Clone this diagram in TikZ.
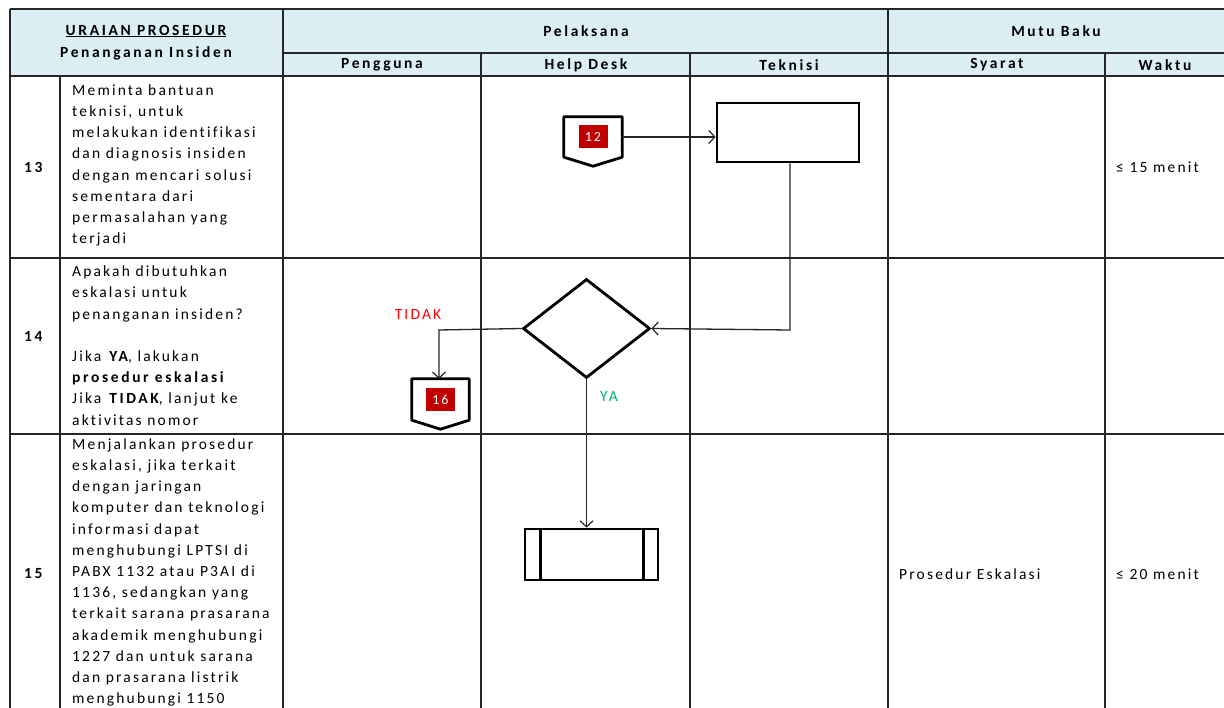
\documentclass[tikz,border=0pt]{standalone}
\usepackage{fontspec}
\setmainfont{Carlito}[LetterSpace=14, Ligatures=NoCommon, BoldFeatures={LetterSpace=17}]
\usetikzlibrary{shapes.geometric,arrows.meta}
\definecolor{hdrfill}{HTML}{DAEEF3}
\definecolor{gridc}{HTML}{262626}
\definecolor{numred}{RGB}{192,0,0}
\definecolor{tidakred}{RGB}{255,0,0}
\definecolor{yagreen}{RGB}{0,176,120}
\begin{document}
\begin{tikzpicture}[x=1pt,y=-1pt,
  every node/.style={font=\fontsize{15.5}{21.2}\selectfont, inner sep=0pt},
  gridline/.style={draw=gridc, line width=1.7pt},
  hd/.style={font=\fontsize{15.5}{21.2}\selectfont\bfseries},
  desc/.style={anchor=west, align=left},
  shp/.style={draw=black, line width=2.8pt},
  numbox/.style={fill=numred, text=white, minimum width=29pt, minimum height=23pt, font=\fontsize{14}{14}\selectfont},
  conn/.style={draw=gridc, line width=1.3pt, -{Straight Barb[length=6pt,width=13pt,line width=1.2pt]}}
]
\useasboundingbox (0,0) rectangle (1224,708);
\clip (0,0) rectangle (1224,708);
\fill[white] (0,0) rectangle (1224,708);

% header fill
\fill[hdrfill] (10,9) rectangle (1224,76);

% grid
\draw[gridline] (10,9) -- (1224,9);
\draw[gridline] (283,53) -- (1224,53);
\draw[gridline] (10,76) -- (1224,76);
\draw[gridline] (10,258) -- (1224,258);
\draw[gridline] (10,434) -- (1224,434);
\draw[gridline] (10,9) -- (10,710);
\draw[gridline] (60,76) -- (60,710);
\draw[gridline] (283,9) -- (283,710);
\draw[gridline] (481,53) -- (481,710);
\draw[gridline] (690,53) -- (690,710);
\draw[gridline] (888,9) -- (888,710);
\draw[gridline] (1105,53) -- (1105,710);

% header texts
\node[hd] (h-uraian) at (146,31) {\underline{URAIAN PROSEDUR}};
\node[hd] (h-penanganan) at (146,53) {Penanganan Insiden};
\node[hd] (h-pelaksana) at (586,31) {Pelaksana};
\node[hd] (h-mutu) at (1056,31) {Mutu Baku};
\node[hd] (h-pengguna) at (382,65) {Pengguna};
\node[hd] (h-helpdesk) at (586,65) {Help Desk};
\node[hd] (h-teknisi) at (789,65) {Teknisi};
\node[hd] (h-syarat) at (997,65) {Syarat};
\node[hd] (h-waktu) at (1165,65) {Waktu};

% row numbers
\node[hd, anchor=west] (n13) at (24,167) {13};
\node[hd, anchor=west] (n14) at (24,336) {14};
\node[hd, anchor=west] (n15) at (24,574) {15};

% descriptions
\node[desc] (d13) at (72,165.5) {Meminta bantuan\\teknisi, untuk\\melakukan identifikasi\\dan diagnosis insiden\\dengan mencari solusi\\sementara dari\\permasalahan yang\\terjadi};
\node[desc] (d14) at (72,345.5) {Apakah dibutuhkan\\eskalasi untuk\\penanganan insiden?\\[21.2pt]Jika \textbf{YA}, lakukan\\\textbf{prosedur eskalasi}\\Jika \textbf{TIDAK}, lanjut ke\\aktivitas nomor};
\node[desc] (d15) at (72,572.5) {Menjalankan prosedur\\eskalasi, jika terkait\\dengan jaringan\\komputer dan teknologi\\informasi dapat\\menghubungi LPTSI di\\PABX 1132 atau P3AI di\\1136, sedangkan yang\\terkait sarana prasarana\\akademik menghubungi\\1227 dan untuk sarana\\dan prasarana listrik\\menghubungi 1150};

% mutu baku
\node[anchor=west] (w13) at (1116,167) {≤ 15 menit};
\node[anchor=west] (s15) at (899,574) {Prosedur Eskalasi};
\node[anchor=west] (w15) at (1116,574) {≤ 20 menit};

% shapes
\node[draw=none, minimum width=58pt, minimum height=40pt] (c12) at (593,137) {};
\draw[shp, line join=round] (c12.north west) -- (c12.north east) -- (c12.south east) -- ([yshift=-9pt]c12.south) -- (c12.south west) -- cycle;
\node[numbox] (c12n) at (c12.center) {12};

\node[shp, minimum width=142pt, minimum height=59pt] (tbox) at (788,132.5) {};

\node[shp, diamond, minimum width=127pt, minimum height=99pt] (dec) at (586.5,328.5) {};

\node[draw=none, minimum width=57pt, minimum height=41pt] (c16) at (440.5,399.5) {};
\draw[shp, line join=round] (c16.north west) -- (c16.north east) -- (c16.south east) -- ([yshift=-9pt]c16.south) -- (c16.south west) -- cycle;
\node[numbox] (c16n) at (c16.center) {16};

\node[shp, minimum width=133pt, minimum height=51pt] (pp) at (591.5,554.5) {};
\draw[shp] ([xshift=17pt]pp.north west) -- ([xshift=17pt]pp.south west);
\draw[shp] ([xshift=-16pt]pp.north east) -- ([xshift=-16pt]pp.south east);

% connectors
\draw[conn] (c12.east) -- (c12.east -| tbox.west);
\coordinate (bend1) at (790,330);
\draw[conn] (tbox.south -| bend1) -- (bend1) -- (dec.east);
\coordinate (bend2) at (439,330);
\draw[conn] (dec.west) -- (bend2) -- (c16.north -| bend2);
\draw[conn] (dec.south) -- (pp.north -| dec.south);

% labels
\node[text=tidakred] (ltidak) at (418,315) {TIDAK};
\node[text=yagreen] (lya) at (609,397) {YA};
\end{tikzpicture}
\end{document}
